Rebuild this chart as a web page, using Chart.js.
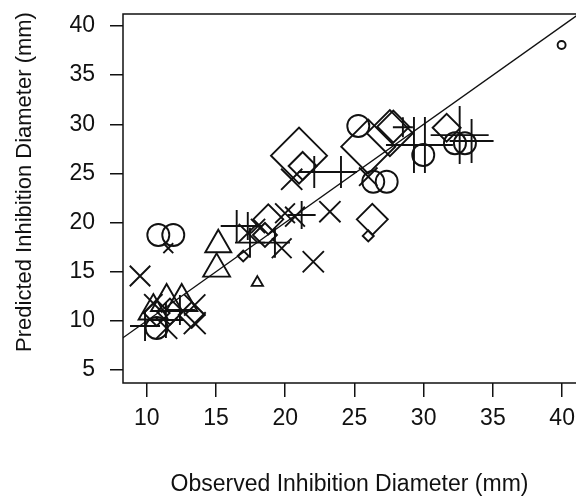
<!DOCTYPE html>
<html>
<head>
<meta charset="utf-8">
<script src="https://cdn.jsdelivr.net/npm/chart.js@4.4.1/dist/chart.umd.min.js"></script>
<style>
  html, body { margin: 0; padding: 0; background: #fff; overflow: hidden; }
</style>
</head>
<body>
<canvas id="scatterChart" width="576" height="496"></canvas>
<script>
const xTicks = [10, 15, 20, 25, 30, 35, 40];
const yTicks = [5, 10, 15, 20, 25, 30, 35, 40];
const xTitle = 'Observed Inhibition Diameter (mm)';
const yTitle = 'Predicted Inhibition Diameter (mm)';

const circleObs  = [39.96, 10.84, 11.92, 10.72, 25.28, 26.36, 27.33, 29.97, 32.26, 32.98];
const circlePred = [38.07, 18.74, 18.74, 9.28, 29.83, 24.16, 24.16, 26.88, 28.07, 28.07];

const triObs  = [15.17, 15.05, 17.99, 11.44, 12.53, 10.48];
const triPred = [17.75, 15.29, 13.89, 11.92, 11.92, 11.0];

const plusObs  = [29.30, 30.09, 32.60, 33.46, 28.50, 22.10, 24.03, 16.50, 17.30, 17.46, 19.26, 21.19, 9.88, 11.39, 12.40];
const plusPred = [27.89, 27.89, 28.90, 28.30, 29.70, 25.15, 25.15, 19.65, 19.65, 17.96, 17.96, 20.77, 9.48, 10.09, 11.11];

const crossObs  = [9.52, 11.56, 22.03, 23.23, 19.75, 20.47, 19.99, 20.71, 13.47, 13.47, 11.44, 10.48, 17.31, 26.0, 18.04];
const crossPred = [14.57, 17.39, 16.02, 21.11, 17.39, 24.4, 20.95, 20.6, 9.76, 11.62, 9.25, 11.79, 18.94, 24.67, 19.65];

const diaObs  = [21.0, 21.26, 26.29, 26.0, 18.78, 16.97, 31.66, 26.0, 27.56, 27.81, 13.25, 10.72, 11.68, 18.54];
const diaPred = [26.81, 25.76, 20.33, 18.64, 20.33, 16.6, 29.65, 27.72, 29.1, 29.76, 10.6, 10.8, 10.94, 18.74];

// tamaño de cada simbolo (px)
const circleSize = [4, 11, 11, 11, 11, 11, 11, 11, 11, 11];
const triSize = [15, 15.5, 6.5, 18, 18, 17];
const plusSize = [28, 28, 29, 22, 10, 16, 16, 16, 14, 15, 15, 14, 15, 18, 15];
const crossSize = [14.5, 7, 15, 15, 14, 15, 14, 14, 15.5, 15, 15, 13, 13, 13, 10];
const diaSize = [28, 14, 15.5, 5.5, 15, 5.5, 14, 27, 23, 16, 13, 13, 13, 12];

const ink = '#111';
const family = '"Liberation Sans", Arial, sans-serif';
const font = { family: family, size: 23 };

function pts(xs, ys) {
    return xs.map((x, i) => ({ x: x, y: ys[i] }));
}

function shapeSet(xs, ys, style, sizes) {
    return {
        type: 'scatter',
        data: pts(xs, ys),
        pointStyle: style,
        pointRadius: sizes,
        pointHoverRadius: sizes,
        borderColor: ink,
        backgroundColor: 'rgba(0,0,0,0)',
        pointBorderWidth: 1.9,
        showLine: false
    };
}

// caja del grafico (el lado derecho queda fuera de la imagen)
const boxPlugin = {
    id: 'plotBox',
    afterDatasetsDraw(chart) {
        const { ctx, chartArea: a } = chart;
        ctx.save();
        ctx.strokeStyle = ink;
        ctx.lineWidth = 1.5;
        ctx.beginPath();
        ctx.moveTo(a.right + 2, a.top);
        ctx.lineTo(a.left, a.top);
        ctx.lineTo(a.left, a.bottom);
        ctx.lineTo(a.right + 2, a.bottom);
        ctx.stroke();
        ctx.restore();
    }
};

// titulo del eje y
const yTitlePlugin = {
    id: 'yTitle',
    afterDraw(chart) {
        const ctx = chart.ctx;
        ctx.save();
        ctx.translate(25, 182);
        ctx.rotate(-Math.PI / 2);
        ctx.font = '22px ' + family;
        ctx.fillStyle = ink;
        ctx.textAlign = 'center';
        ctx.textBaseline = 'middle';
        ctx.fillText(yTitle, 0, 0);
        ctx.restore();
    }
};

const ctx = document.getElementById('scatterChart').getContext('2d');
new Chart(ctx, {
    type: 'scatter',
    data: {
        datasets: [
            {
                type: 'line',
                data: [{ x: 0, y: 0 }, { x: 50, y: 50 }],
                borderColor: ink,
                borderWidth: 1.3,
                pointRadius: 0,
                fill: false
            },
            shapeSet(circleObs, circlePred, 'circle', circleSize),
            shapeSet(triObs, triPred, 'triangle', triSize),
            shapeSet(plusObs, plusPred, 'cross', plusSize),
            shapeSet(crossObs, crossPred, 'crossRot', crossSize),
            shapeSet(diaObs, diaPred, 'rectRot', diaSize)
        ]
    },
    options: {
        responsive: false,
        animation: false,
        devicePixelRatio: 1,
        layout: { autoPadding: false, padding: { top: 14, right: 0, left: 0, bottom: 0 } },
        plugins: { legend: { display: false }, tooltip: { enabled: false } },
        scales: {
            x: {
                type: 'linear',
                min: 8.29,
                max: 41.0,
                afterBuildTicks: s => { s.ticks = xTicks.map(v => ({ value: v })); },
                afterFit: s => { s.height = 113; s.paddingLeft = 0; s.paddingRight = 0; },
                ticks: { font: font, color: ink, padding: 8, autoSkip: false, maxRotation: 0 },
                grid: { drawOnChartArea: false, tickLength: 14, color: ink, lineWidth: 1.5 },
                border: { display: false },
                title: { display: true, text: xTitle, font: { ...font, lineHeight: 1 }, color: ink, padding: { top: 0, bottom: 0 } }
            },
            y: {
                type: 'linear',
                min: 3.68,
                max: 41.22,
                afterBuildTicks: s => { s.ticks = yTicks.map(v => ({ value: v })); },
                afterFit: s => { s.width = 123; s.paddingTop = 0; s.paddingBottom = 0; },
                ticks: { font: font, color: ink, padding: 15, autoSkip: false },
                grid: { drawOnChartArea: false, tickLength: 13, color: ink, lineWidth: 1.5 },
                border: { display: false }
            }
        }
    },
    plugins: [boxPlugin, yTitlePlugin]
});
</script>
</body>
</html>
